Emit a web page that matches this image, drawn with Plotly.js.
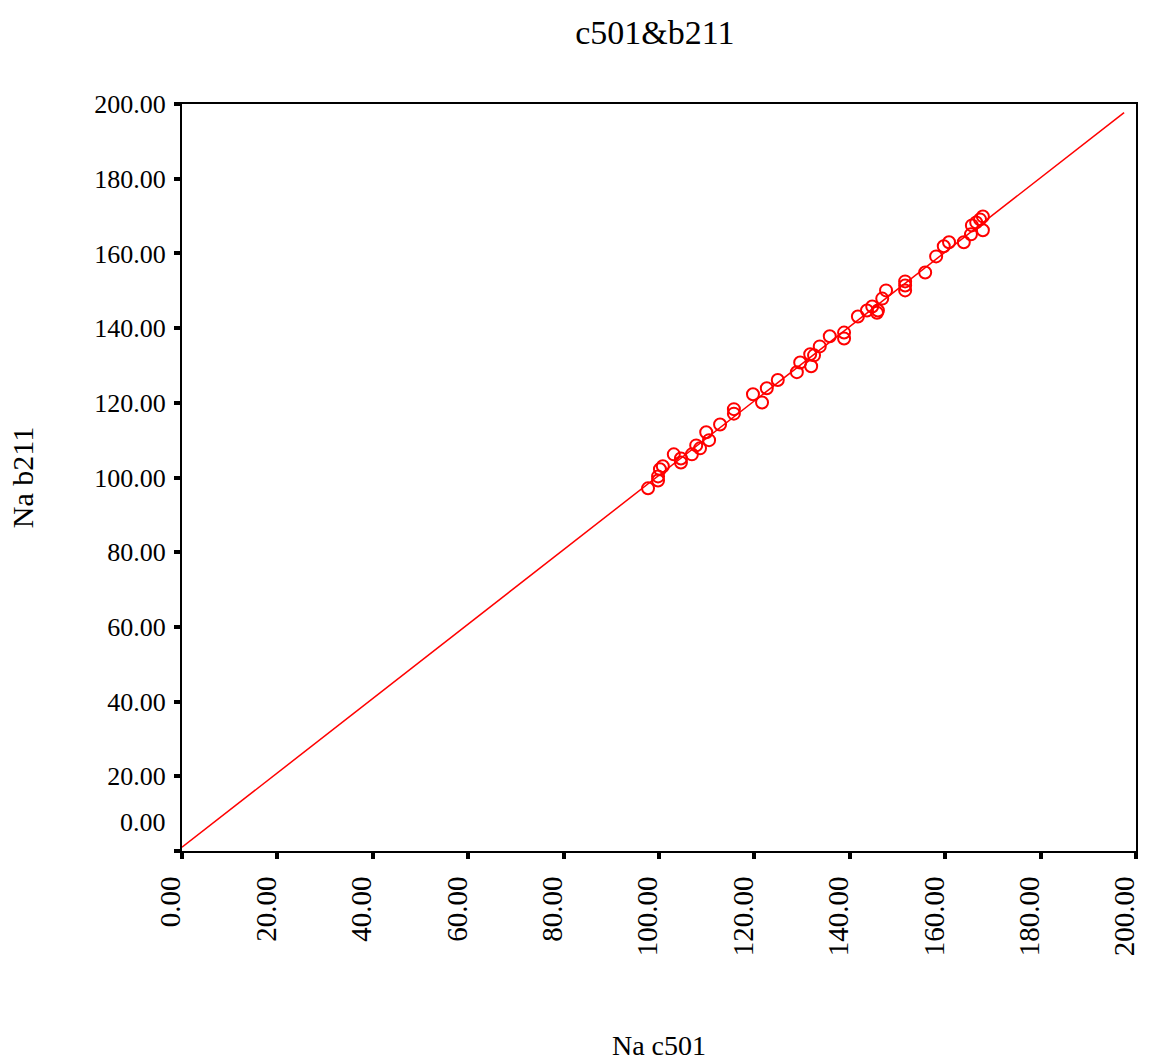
<!DOCTYPE html>
<html>
<head>
<meta charset="utf-8">
<script src="https://cdn.plot.ly/plotly-3.0.1.min.js"></script>
<style>html,body{margin:0;padding:0;background:#fff;}#chart{width:1149px;height:1064px;}</style>
</head>
<body>
<div id="chart"></div>
<script>
// Scatter data: Na c501 (x) vs Na b211 (y)
const naC501 = [97.7, 99.8, 99.8, 100.2, 100.8, 103.1, 104.6, 104.6, 106.9, 107.8,
  108.6, 109.9, 110.5, 112.8, 115.7, 115.7, 119.7, 121.6, 122.6, 124.9,
  128.9, 129.6, 131.7, 131.9, 132.5, 133.7, 135.8, 138.8, 138.8, 141.7,
  143.6, 144.7, 145.7, 145.9, 146.8, 147.6, 151.6, 151.6, 151.6, 155.8,
  158.1, 159.7, 160.8, 163.9, 165.4, 165.6, 166.5, 167.3, 167.9, 167.9];
const naB211 = [97.1, 99.2, 100.3, 102.2, 103.0, 106.2, 105.1, 104.0, 106.2, 108.6,
  107.8, 112.1, 110.0, 114.2, 117.1, 118.3, 122.3, 120.1, 123.9, 126.1,
  128.2, 130.8, 133.0, 129.8, 132.7, 135.1, 137.8, 137.2, 138.8, 143.1,
  144.7, 145.8, 144.1, 144.7, 147.9, 150.1, 152.5, 151.4, 150.1, 154.9,
  159.2, 161.9, 163.0, 163.0, 165.1, 167.5, 168.3, 169.1, 169.9, 166.2];
// Fit line end points
const fitX = [0, 197.5];
const fitY = [1.0, 197.7];
// Ticks
const tickVals = [0, 20, 40, 60, 80, 100, 120, 140, 160, 180, 200];
const xTickText = ['0.00','20.00','40.00','60.00','80.00','100.00','120.00','140.00','160.00','180.00','200.00'];
const yTickText = ['','20.00','40.00','60.00','80.00','100.00','120.00','140.00','160.00','180.00','200.00'];
const yZeroLabel = '0.00';

const serif = 'Liberation Serif, Times New Roman, serif';

const traces = [
  {x: fitX, y: fitY, type: 'scatter', mode: 'lines',
   line: {color: '#ff0000', width: 1.5}, hoverinfo: 'skip', showlegend: false},
  {x: naC501, y: naB211, type: 'scatter', mode: 'markers',
   marker: {symbol: 'circle-open', size: 12, color: '#ff0000', line: {width: 2, color: '#ff0000'}},
   showlegend: false}
];

const axisCommon = {
  range: [0, 200], autorange: false, tickmode: 'array', tickvals: tickVals,
  showgrid: false, zeroline: false, showline: true, linecolor: '#000', linewidth: 2,
  mirror: true, ticks: 'outside', ticklen: 6, tickwidth: 4, tickcolor: '#000',
  tickfont: {family: serif, size: 26, color: '#000'}, ticklabelstandoff: 3,
  ticklabeloverflow: 'allow'
};

const layout = {
  width: 1149, height: 1064,
  margin: {l: 182, r: 13, t: 104, b: 213},
  paper_bgcolor: '#fff', plot_bgcolor: '#fff',
  title: {text: 'c501&b211', font: {family: serif, size: 34, color: '#000'},
          x: 0.57, xanchor: 'center', y: 0.97, yanchor: 'middle'},
  xaxis: Object.assign({}, axisCommon, {
    ticktext: xTickText, tickangle: -90,
    tickfont: {family: serif, size: 29, color: '#000'}, ticklabelstandoff: 6,
    ticklabelshift: -11,
    title: {text: 'Na c501', font: {family: serif, size: 28, color: '#000'}, standoff: 80}
  }),
  yaxis: Object.assign({}, axisCommon, {
    ticktext: yTickText,
    title: {text: 'Na b211', font: {family: serif, size: 30, color: '#000'}, standoff: 52}
  }),
  annotations: [{
    text: yZeroLabel, xref: 'paper', yref: 'y', x: 0, y: 7.5,
    xanchor: 'right', yanchor: 'middle', xshift: -14, showarrow: false,
    font: {family: serif, size: 26, color: '#000'}
  }]
};

Plotly.newPlot('chart', traces, layout, {displayModeBar: false, staticPlot: true});
</script>
</body>
</html>
